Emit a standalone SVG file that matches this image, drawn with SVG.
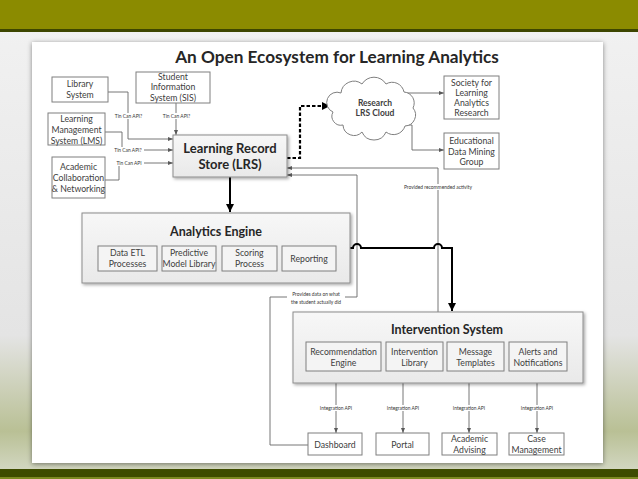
<svg xmlns="http://www.w3.org/2000/svg" width="638" height="479" viewBox="0 0 638 479">
<defs>
  <linearGradient id="bg" x1="0" y1="0" x2="0" y2="1">
    <stop offset="0" stop-color="#f2f2f2"/>
    <stop offset="0.7" stop-color="#e4e4e4"/>
    <stop offset="0.9" stop-color="#b9c095"/>
    <stop offset="1" stop-color="#d8dccb"/>
  </linearGradient>
  <linearGradient id="boxg" x1="0" y1="0" x2="0" y2="1">
    <stop offset="0" stop-color="#f7f7f7"/>
    <stop offset="1" stop-color="#e9e9e9"/>
  </linearGradient>
  <filter id="sh" x="-10%" y="-10%" width="130%" height="130%">
    <feDropShadow dx="1.5" dy="1.5" stdDeviation="1.5" flood-color="#000" flood-opacity="0.35"/>
  </filter>
  <filter id="psh" x="-5%" y="-5%" width="110%" height="110%">
    <feDropShadow dx="0" dy="1" stdDeviation="2.5" flood-color="#000" flood-opacity="0.45"/>
  </filter>
  <marker id="ag" viewBox="0 0 10 10" refX="10" refY="5" markerWidth="5" markerHeight="5" orient="auto" markerUnits="userSpaceOnUse">
    <path d="M0,1 L10,5 L0,9 z" fill="#595959"/>
  </marker>
  <marker id="ab" viewBox="0 0 10 10" refX="10" refY="5" markerWidth="8" markerHeight="8" orient="auto" markerUnits="userSpaceOnUse">
    <path d="M0,0 L10,5 L0,10 z" fill="#000"/>
  </marker>
  <style>
    .t{font-family:Lato,"Liberation Sans",sans-serif;fill:#404040;text-anchor:middle}
    .s{font-size:8.7px}
    .b{font-weight:bold;fill:#262626}
    .tiny{font-size:4.9px;fill:#333}
    .box{fill:#fff;stroke:#7f7f7f;stroke-width:1}
    .sub{fill:#f4f4f4;stroke:#7f7f7f;stroke-width:1}
    .big{fill:url(#boxg);stroke:#8c8c8c;stroke-width:1;filter:url(#sh)}
    .ln{fill:none;stroke:#666;stroke-width:0.9}
    .lb{fill:#fff}
  </style>
</defs>

<!-- background -->
<rect x="0" y="0" width="638" height="479" fill="url(#bg)"/>
<rect x="0" y="0" width="638" height="29" fill="#8b8b00"/>
<rect x="0" y="29" width="638" height="3" fill="#3d4600"/>
<rect x="0" y="469" width="638" height="8" fill="#3e4c00"/>
<rect x="0" y="477" width="638" height="2" fill="#7d8a22"/>
<rect x="32" y="42" width="571" height="421" fill="#fff" filter="url(#psh)"/>

<text class="t b" x="337" y="63" font-size="17.2">An Open Ecosystem for Learning Analytics</text>

<!-- connectors -->
<g id="connectors">
  <path class="ln" d="M108,92 H128 V139 H173" marker-end="url(#ag)"/>
  <path class="ln" d="M176,103 V135" marker-end="url(#ag)"/>
  <path class="ln" d="M105,132 H122 V150 H173" marker-end="url(#ag)"/>
  <path class="ln" d="M105,180 H119 V163 H173" marker-end="url(#ag)"/>
  <rect class="lb" x="113" y="113" width="31" height="6"/>
  <text class="t tiny" x="128.5" y="117.7">Tin Can API?</text>
  <rect class="lb" x="161" y="113" width="31" height="6"/>
  <text class="t tiny" x="176.5" y="117.7">Tin Can API?</text>
  <rect class="lb" x="113" y="147" width="31" height="6"/>
  <text class="t tiny" x="128" y="151.7">Tin Can API?</text>
  <rect class="lb" x="115" y="160" width="29" height="6"/>
  <text class="t tiny" x="129" y="164.7">Tin Can API</text>

  <path d="M287,158 H300 V106 H330" fill="none" stroke="#000" stroke-width="2.2" stroke-dasharray="3.5,2" marker-end="url(#ab)"/>
  <path class="ln" d="M403,93 H444" marker-end="url(#ag)"/>
  <path class="ln" d="M405,125 H412 V150 H444" marker-end="url(#ag)"/>

  <path d="M230,177 V212" fill="none" stroke="#000" stroke-width="2" marker-end="url(#ab)"/>

  <path class="ln" d="M438,312 V168 H287" marker-end="url(#ag)"/>
  <rect class="lb" x="395" y="184" width="86" height="6"/>
  <text class="t tiny" x="438" y="188.7">Provided recommended activity</text>

  <path class="ln" d="M308,445 H270 V297 H357 V175 H287" marker-end="url(#ag)"/>
  <rect class="lb" x="287" y="290" width="58" height="16"/>
  <text class="t tiny" x="316" y="296">Provides data on what</text>
  <text class="t tiny" x="316" y="304">the student actually did</text>

  <path d="M350,248 H353 A4,4 0 0 1 361,248 H434 A4,4 0 0 1 442,248 H452 V311" fill="none" stroke="#000" stroke-width="2" marker-end="url(#ab)"/>

  <path class="ln" d="M336,383 V433" marker-end="url(#ag)"/>
  <path class="ln" d="M403,383 V433" marker-end="url(#ag)"/>
  <path class="ln" d="M469,383 V433" marker-end="url(#ag)"/>
  <path class="ln" d="M537,383 V433" marker-end="url(#ag)"/>
  <rect class="lb" x="317" y="405" width="38" height="6"/>
  <text class="t tiny" x="336" y="409.7">Integration API</text>
  <rect class="lb" x="384" y="405" width="38" height="6"/>
  <text class="t tiny" x="403" y="409.7">Integration API</text>
  <rect class="lb" x="450" y="405" width="38" height="6"/>
  <text class="t tiny" x="469" y="409.7">Integration API</text>
  <rect class="lb" x="518" y="405" width="38" height="6"/>
  <text class="t tiny" x="537" y="409.7">Integration API</text>
</g>

<g id="library">
  <rect class="box" x="52" y="77" width="56" height="25"/>
  <text class="t s" x="80" y="87">Library</text>
  <text class="t s" x="80" y="98">System</text>
</g>
<g id="sis">
  <rect class="box" x="136" y="72" width="74" height="31"/>
  <text class="t s" x="173" y="79.5">Student</text>
  <text class="t s" x="173" y="90">Information</text>
  <text class="t s" x="173" y="100.5">System (SIS)</text>
</g>
<g id="lms">
  <rect class="box" x="48" y="113" width="57" height="32"/>
  <text class="t s" x="76.5" y="122">Learning</text>
  <text class="t s" x="76.5" y="133">Management</text>
  <text class="t s" x="76.5" y="144">System (LMS)</text>
</g>
<g id="academic-collab">
  <rect class="box" x="52" y="157" width="53" height="41"/>
  <text class="t s" x="78.5" y="170">Academic</text>
  <text class="t s" x="78.5" y="181">Collaboration</text>
  <text class="t s" x="78.5" y="191.5">&amp; Networking</text>
</g>

<g id="lrs">
  <rect class="big" x="173" y="135" width="114" height="42"/>
  <text class="t b" x="230" y="153" font-size="13">Learning Record</text>
  <text class="t b" x="230" y="169" font-size="13">Store (LRS)</text>
</g>

<g id="cloud">
  <path d="M333,112 A10,10 0 0 1 341,93 A13,13 0 0 1 362,84 A14,14 0 0 1 386,84 A12,12 0 0 1 404,92 A11,11 0 0 1 413,108 A11,11 0 0 1 405,126 A12,12 0 0 1 386,132 A13,13 0 0 1 362,132 A11,11 0 0 1 343,125 A9,9 0 0 1 333,112 Z" fill="#fff" stroke="#7f7f7f" stroke-width="1"/>
  <text class="t b" x="375" y="106" font-size="8.5" style="fill:#404040">Research</text>
  <text class="t b" x="375" y="116" font-size="8.5" style="fill:#404040">LRS Cloud</text>
</g>

<g id="solar">
  <rect class="box" x="444" y="76" width="55" height="43"/>
  <text class="t s" x="471.5" y="86">Society for</text>
  <text class="t s" x="471.5" y="96">Learning</text>
  <text class="t s" x="471.5" y="106">Analytics</text>
  <text class="t s" x="471.5" y="116">Research</text>
</g>
<g id="edm">
  <rect class="box" x="444" y="133" width="55" height="36"/>
  <text class="t s" x="471.5" y="144">Educational</text>
  <text class="t s" x="471.5" y="155">Data Mining</text>
  <text class="t s" x="471.5" y="165">Group</text>
</g>

<g id="analytics-engine">
  <rect class="big" x="82" y="213" width="268" height="70"/>
  <text class="t b" x="216" y="236" font-size="12.5">Analytics Engine</text>
  <rect class="sub" x="98" y="246" width="59" height="25"/>
  <text class="t s" x="127.5" y="256">Data ETL</text>
  <text class="t s" x="127.5" y="266.5">Processes</text>
  <rect class="sub" x="162" y="246" width="54" height="25"/>
  <text class="t s" x="189" y="256">Predictive</text>
  <text class="t s" x="189" y="266.5">Model Library</text>
  <rect class="sub" x="222" y="246" width="55" height="25"/>
  <text class="t s" x="249.5" y="256">Scoring</text>
  <text class="t s" x="249.5" y="266.5">Process</text>
  <rect class="sub" x="282" y="246" width="54" height="25"/>
  <text class="t s" x="309" y="261.5">Reporting</text>
</g>

<g id="intervention-system">
  <rect class="big" x="293" y="312" width="290" height="71"/>
  <text class="t b" x="447" y="334" font-size="12.5">Intervention System</text>
  <rect class="sub" x="306" y="342" width="75" height="29"/>
  <text class="t s" x="343.5" y="355">Recommendation</text>
  <text class="t s" x="343.5" y="365.5">Engine</text>
  <rect class="sub" x="386" y="342" width="57" height="29"/>
  <text class="t s" x="414.5" y="355">Intervention</text>
  <text class="t s" x="414.5" y="365.5">Library</text>
  <rect class="sub" x="447" y="342" width="57" height="29"/>
  <text class="t s" x="475.5" y="355">Message</text>
  <text class="t s" x="475.5" y="365.5">Templates</text>
  <rect class="sub" x="509" y="342" width="58" height="29"/>
  <text class="t s" x="538" y="355">Alerts and</text>
  <text class="t s" x="538" y="365.5">Notifications</text>
</g>

<g id="dashboard">
  <rect class="box" x="308" y="433" width="54" height="22"/>
  <text class="t s" x="335" y="447.5">Dashboard</text>
</g>
<g id="portal">
  <rect class="box" x="376" y="433" width="53" height="22"/>
  <text class="t s" x="402.5" y="447.5">Portal</text>
</g>
<g id="academic-advising">
  <rect class="box" x="442" y="433" width="55" height="22"/>
  <text class="t s" x="469.5" y="442">Academic</text>
  <text class="t s" x="469.5" y="453">Advising</text>
</g>
<g id="case-management">
  <rect class="box" x="509" y="433" width="55" height="22"/>
  <text class="t s" x="536.5" y="442">Case</text>
  <text class="t s" x="536.5" y="453">Management</text>
</g>
</svg>
